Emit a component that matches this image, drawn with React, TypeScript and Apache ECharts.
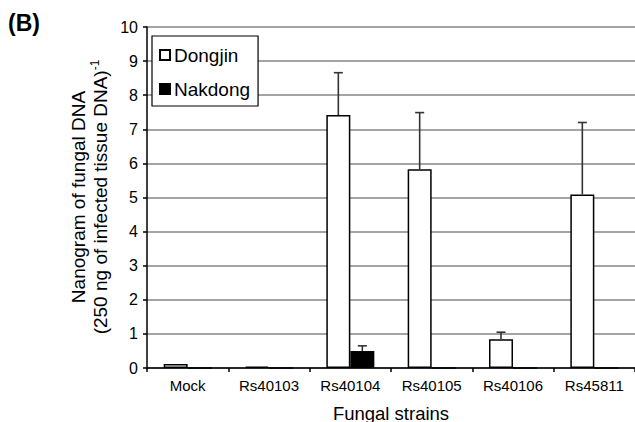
import React, { useEffect, useRef } from "react";
import * as echarts from "echarts";

const categories = ["Mock", "Rs40103", "Rs40104", "Rs40105", "Rs40106", "Rs45811"];
const dongjin = [0.12, 0.04, 7.42, 5.83, 0.84, 5.09];
const dongjinErr = [0, 0, 1.24, 1.66, 0.21, 2.11];
const nakdong = [0, 0, 0.5, 0, 0, 0];
const nakdongErr = [0, 0, 0.15, 0, 0, 0];
const yTicks = { min: 0, max: 10, interval: 1 };

const FONT = "'Liberation Sans', Arial, sans-serif";
const BAR_W = 24;

function errSeries(name: string, vals: number[], errs: number[], offset: number) {
  return {
    type: "custom",
    name: name + " error",
    z: 10,
    silent: true,
    data: vals.map((v, i) => [i, v, errs[i]]),
    encode: { x: 0, y: 1 },
    renderItem: (params: any, api: any) => {
      const err = api.value(2);
      if (!err) return null;
      const base = api.coord([api.value(0), api.value(1)]);
      const top = api.coord([api.value(0), api.value(1) + err]);
      const x = base[0] + offset;
      const st = { stroke: "#333", lineWidth: 1.6 };
      return {
        type: "group",
        children: [
          { type: "line", shape: { x1: x, y1: base[1], x2: x, y2: top[1] }, style: st },
          { type: "line", shape: { x1: x - 4.5, y1: top[1], x2: x + 4.5, y2: top[1] }, style: st },
        ],
      };
    },
  };
}

export default function App() {
  const ref = useRef<HTMLDivElement>(null);
  useEffect(() => {
    const chart = echarts.init(ref.current!, null, { renderer: "svg" });
    chart.setOption({
      animation: false,
      backgroundColor: "#fff",
      textStyle: { fontFamily: FONT },
      grid: { left: 147, top: 27, width: 492, height: 341, containLabel: false },
      legend: {
        data: ["Dongjin", "Nakdong"],
        orient: "vertical",
        left: 152,
        top: 36,
        padding: [8, 8, 6, 7],
        icon: "rect",
        itemWidth: 10,
        itemHeight: 10,
        itemGap: 12,
        backgroundColor: "#fff",
        borderColor: "#000",
        borderWidth: 1.2,
        textStyle: { fontSize: 19, lineHeight: 22, color: "#000", fontFamily: FONT, padding: [0, 0, 0, -1] },
        z: 20,
      },
      xAxis: {
        type: "category",
        data: categories,
        boundaryGap: true,
        axisLine: { lineStyle: { color: "#000", width: 1.5 } },
        axisTick: { show: true, length: 4, lineStyle: { color: "#000", width: 1.5 } },
        axisLabel: { fontSize: 15, color: "#000", margin: 10, fontFamily: FONT },
        splitLine: { show: false },
      },
      yAxis: {
        type: "value",
        min: yTicks.min,
        max: yTicks.max,
        interval: yTicks.interval,
        axisLine: { show: true, lineStyle: { color: "#000", width: 1.5 } },
        axisTick: { show: true, length: 4, lineStyle: { color: "#000", width: 1.5 } },
        axisLabel: { fontSize: 16, color: "#000", margin: 9, fontFamily: FONT },
        splitLine: { show: true, lineStyle: { color: "#868686", width: 1.5 } },
      },
      series: [
        {
          type: "bar",
          name: "Dongjin",
          data: dongjin,
          barWidth: BAR_W,
          barGap: "0%",
          itemStyle: { color: "#fff", borderColor: "#000", borderWidth: 1.5 },
        },
        {
          type: "bar",
          name: "Nakdong",
          data: nakdong,
          barWidth: BAR_W,
          barGap: "0%",
          itemStyle: { color: "#000", borderColor: "#000", borderWidth: 1.5 },
        },
        errSeries("Dongjin", dongjin, dongjinErr, -BAR_W / 2),
        errSeries("Nakdong", nakdong, nakdongErr, BAR_W / 2),
      ],
      graphic: [
        {
          type: "text",
          left: 8,
          top: 11,
          style: { text: "(B)", font: `bold 23px ${FONT}`, fill: "#000" },
        },
        {
          type: "text",
          x: 391,
          y: 413,
          style: {
            text: "Fungal strains",
            font: `18.5px ${FONT}`,
            fill: "#000",
            align: "center",
            verticalAlign: "middle",
          },
        },
        {
          type: "text",
          x: 89,
          y: 197,
          rotation: Math.PI / 2,
          style: {
            text: "Nanogram of fungal DNA\n(250 ng of infected tissue DNA){s|-1}",
            font: `19px ${FONT}`,
            fontSize: 19,
            fontFamily: FONT,
            lineHeight: 22,
            fill: "#000",
            align: "center",
            verticalAlign: "middle",
            rich: {
              s: { fontSize: 12, lineHeight: 12, verticalAlign: "top", fontFamily: FONT, fill: "#000" },
            },
          },
        },
      ],
    });
    return () => chart.dispose();
  }, []);
  return (
    <div
      ref={ref}
      style={{ position: "absolute", left: 0, top: 0, width: 635, height: 422 }}
    />
  );
}
